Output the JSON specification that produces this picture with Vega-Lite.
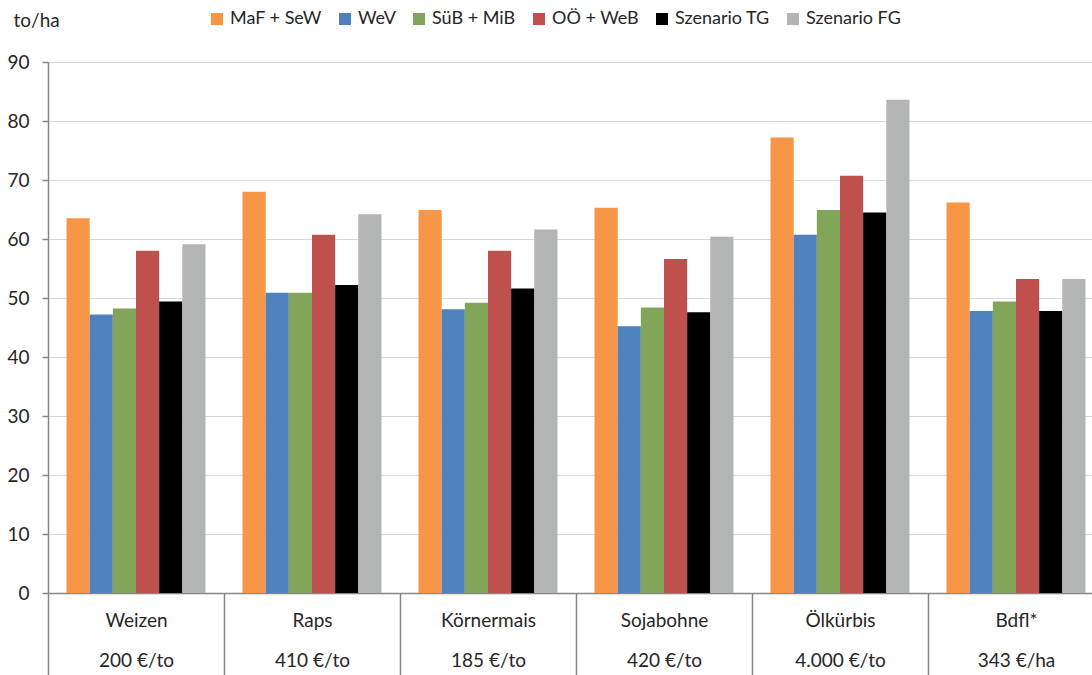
{
  "$schema": "https://vega.github.io/schema/vega-lite/v6.json",
  "width": 1044,
  "height": 531,
  "autosize": {"type": "none"},
  "padding": {"left": 48, "top": 62, "right": 0, "bottom": 82},
  "background": "white",
  "config": {
    "font": "Lato",
    "view": {"stroke": null}
  },
  "data": {
    "values": [
      {"kultur": "Weizen|200 €/to", "szenario": "MaF + SeW", "ertrag": 63.5},
      {"kultur": "Weizen|200 €/to", "szenario": "WeV", "ertrag": 47.2},
      {"kultur": "Weizen|200 €/to", "szenario": "SüB + MiB", "ertrag": 48.2},
      {"kultur": "Weizen|200 €/to", "szenario": "OÖ + WeB", "ertrag": 58.0},
      {"kultur": "Weizen|200 €/to", "szenario": "Szenario TG", "ertrag": 49.4},
      {"kultur": "Weizen|200 €/to", "szenario": "Szenario FG", "ertrag": 59.1},
      {"kultur": "Raps|410 €/to", "szenario": "MaF + SeW", "ertrag": 68.0},
      {"kultur": "Raps|410 €/to", "szenario": "WeV", "ertrag": 50.9},
      {"kultur": "Raps|410 €/to", "szenario": "SüB + MiB", "ertrag": 50.9},
      {"kultur": "Raps|410 €/to", "szenario": "OÖ + WeB", "ertrag": 60.7},
      {"kultur": "Raps|410 €/to", "szenario": "Szenario TG", "ertrag": 52.2},
      {"kultur": "Raps|410 €/to", "szenario": "Szenario FG", "ertrag": 64.2},
      {"kultur": "Körnermais|185 €/to", "szenario": "MaF + SeW", "ertrag": 64.9},
      {"kultur": "Körnermais|185 €/to", "szenario": "WeV", "ertrag": 48.1},
      {"kultur": "Körnermais|185 €/to", "szenario": "SüB + MiB", "ertrag": 49.2},
      {"kultur": "Körnermais|185 €/to", "szenario": "OÖ + WeB", "ertrag": 58.0},
      {"kultur": "Körnermais|185 €/to", "szenario": "Szenario TG", "ertrag": 51.6},
      {"kultur": "Körnermais|185 €/to", "szenario": "Szenario FG", "ertrag": 61.6},
      {"kultur": "Sojabohne|420 €/to", "szenario": "MaF + SeW", "ertrag": 65.3},
      {"kultur": "Sojabohne|420 €/to", "szenario": "WeV", "ertrag": 45.2},
      {"kultur": "Sojabohne|420 €/to", "szenario": "SüB + MiB", "ertrag": 48.4},
      {"kultur": "Sojabohne|420 €/to", "szenario": "OÖ + WeB", "ertrag": 56.6},
      {"kultur": "Sojabohne|420 €/to", "szenario": "Szenario TG", "ertrag": 47.6},
      {"kultur": "Sojabohne|420 €/to", "szenario": "Szenario FG", "ertrag": 60.4},
      {"kultur": "Ölkürbis|4.000 €/to", "szenario": "MaF + SeW", "ertrag": 77.2},
      {"kultur": "Ölkürbis|4.000 €/to", "szenario": "WeV", "ertrag": 60.7},
      {"kultur": "Ölkürbis|4.000 €/to", "szenario": "SüB + MiB", "ertrag": 64.9},
      {"kultur": "Ölkürbis|4.000 €/to", "szenario": "OÖ + WeB", "ertrag": 70.7},
      {"kultur": "Ölkürbis|4.000 €/to", "szenario": "Szenario TG", "ertrag": 64.5},
      {"kultur": "Ölkürbis|4.000 €/to", "szenario": "Szenario FG", "ertrag": 83.6},
      {"kultur": "Bdfl*|343 €/ha", "szenario": "MaF + SeW", "ertrag": 66.2},
      {"kultur": "Bdfl*|343 €/ha", "szenario": "WeV", "ertrag": 47.8},
      {"kultur": "Bdfl*|343 €/ha", "szenario": "SüB + MiB", "ertrag": 49.4},
      {"kultur": "Bdfl*|343 €/ha", "szenario": "OÖ + WeB", "ertrag": 53.2},
      {"kultur": "Bdfl*|343 €/ha", "szenario": "Szenario TG", "ertrag": 47.8},
      {"kultur": "Bdfl*|343 €/ha", "szenario": "Szenario FG", "ertrag": 53.2}
    ]
  },
  "mark": {"type": "bar"},
  "encoding": {
    "x": {
      "field": "kultur",
      "type": "nominal",
      "sort": null,
      "scale": {"range": [0, 1056], "paddingInner": 0, "paddingOuter": 0},
      "axis": {
        "title": null,
        "labelExpr": "split(datum.label, '|')",
        "labelAngle": 0,
        "labelOverlap": false,
        "labelBound": false,
        "labelFontSize": 19,
        "labelColor": "#262626",
        "labelLineHeight": 40,
        "labelBaseline": "top",
        "labelPadding": -64,
        "tickBand": "extent",
        "tickSize": 82,
        "tickWidth": 1.5,
        "tickColor": "#868686",
        "domainColor": "#868686",
        "domainWidth": 1.5
      }
    },
    "xOffset": {
      "field": "szenario",
      "sort": null,
      "scale": {"paddingInner": 0, "paddingOuter": 0.8}
    },
    "y": {
      "field": "ertrag",
      "type": "quantitative",
      "scale": {"domain": [0, 90], "nice": false},
      "axis": {
        "values": [0, 10, 20, 30, 40, 50, 60, 70, 80, 90],
        "title": "to/ha",
        "titleAngle": 0,
        "titleAlign": "left",
        "titleBaseline": "middle",
        "titleX": -35,
        "titleY": -42,
        "titleFontSize": 19,
        "titleFontWeight": "normal",
        "titleColor": "#262626",
        "labelFontSize": 19,
        "labelColor": "#262626",
        "labelPadding": 13,
        "tickSize": 6,
        "tickWidth": 1.5,
        "tickColor": "#868686",
        "domainColor": "#868686",
        "domainWidth": 1.5,
        "grid": true,
        "gridColor": "#d9d9d9",
        "gridWidth": 1
      }
    },
    "color": {
      "field": "szenario",
      "type": "nominal",
      "scale": {
        "domain": ["MaF + SeW", "WeV", "SüB + MiB", "OÖ + WeB", "Szenario TG", "Szenario FG"],
        "range": ["#F79646", "#4F81BD", "#82A55A", "#C0504D", "#000000", "#B3B4B4"]
      },
      "legend": {
        "orient": "none",
        "legendX": 160,
        "legendY": -52,
        "direction": "horizontal",
        "title": null,
        "symbolType": "square",
        "symbolSize": 144,
        "symbolStrokeWidth": 0,
        "labelFontSize": 18,
        "labelColor": "#262626",
        "labelOffset": 4,
        "columnPadding": 14
      }
    }
  }
}
